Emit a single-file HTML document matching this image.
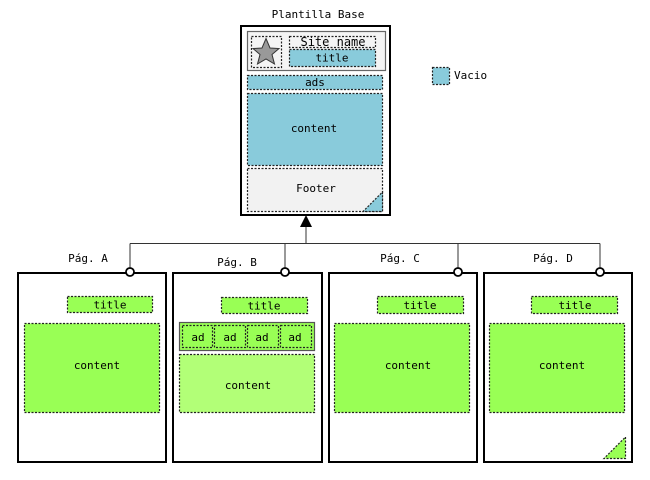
<!DOCTYPE html>
<html><head><meta charset="utf-8"><style>
html,body{margin:0;padding:0;background:#fff;}
svg{display:block}
text{font-family:"DejaVu Sans Mono","Liberation Mono",monospace;font-size:11px;fill:#000}
.d{stroke:#222;stroke-width:1.2;stroke-dasharray:2,1.5}
.g{fill:#99ff55}
.b{fill:#89cbdb}
</style></head><body>
<svg width="650" height="480" viewBox="0 0 650 480" xmlns="http://www.w3.org/2000/svg">
<text x="318" y="18" text-anchor="middle">Plantilla Base</text>
<rect x="241" y="26" width="149" height="189" fill="#fff" stroke="#000" stroke-width="2"/>
<rect x="247.5" y="31.5" width="138" height="39" fill="#f4f4f4" stroke="#666" stroke-width="1.2"/>
<rect x="251.5" y="36.5" width="30" height="31" fill="#f4f4f4" class="d"/>
<polygon points="266,38.5 270,48 279,48.5 272,54.5 274.5,64 266,59 257.5,64 260,54.5 253,48.5 262,48" fill="#999" stroke="#333" stroke-width="1"/>
<rect x="289.5" y="36.5" width="86" height="11" fill="#f4f4f4" class="d"/>
<text x="333" y="46" text-anchor="middle" style="font-size:12px">Site name</text>
<rect x="289.5" y="49.5" width="86" height="17" class="b d"/>
<text x="332" y="61.5" text-anchor="middle">title</text>
<rect x="247.5" y="75.5" width="135" height="14" class="b d"/>
<text x="315" y="86" text-anchor="middle">ads</text>
<rect x="247.5" y="93.5" width="135" height="72" class="b d"/>
<text x="314" y="132" text-anchor="middle">content</text>
<rect x="247.5" y="168.5" width="135" height="43" fill="#f2f2f2" class="d"/>
<polygon points="382.5,192 382.5,211.5 363,211.5" class="b d"/>
<text x="316" y="192" text-anchor="middle">Footer</text>
<rect x="432.5" y="67.5" width="17" height="17" class="b d"/>
<text x="454" y="79">Vacio</text>
<polygon points="306,215 300,227 312,227" fill="#000"/>
<g stroke="#333" stroke-width="1" fill="none">
<line x1="306" y1="227" x2="306" y2="243.5"/>
<line x1="130" y1="243.5" x2="600" y2="243.5"/>
<line x1="130" y1="243.5" x2="130" y2="268"/>
<line x1="285" y1="243.5" x2="285" y2="268"/>
<line x1="458" y1="243.5" x2="458" y2="268"/>
<line x1="600" y1="243.5" x2="600" y2="268"/>
</g>
<g fill="#fff" stroke="#000" stroke-width="2">
<rect x="18" y="273" width="148" height="189"/>
<rect x="173" y="273" width="149" height="189"/>
<rect x="329" y="273" width="148" height="189"/>
<rect x="484" y="273" width="148" height="189"/>
</g>
<g fill="#fff" stroke="#000" stroke-width="1.8">
<circle cx="130" cy="272" r="4"/>
<circle cx="285" cy="272" r="4"/>
<circle cx="458" cy="272" r="4"/>
<circle cx="600" cy="272" r="4"/>
</g>
<text x="88" y="262" text-anchor="middle">Pág. A</text>
<text x="237" y="266" text-anchor="middle">Pág. B</text>
<text x="400" y="262" text-anchor="middle">Pág. C</text>
<text x="553" y="262" text-anchor="middle">Pág. D</text>
<rect x="67.5" y="296.5" width="85" height="16" class="g d"/>
<text x="110" y="308.5" text-anchor="middle">title</text>
<rect x="24.5" y="323.5" width="135" height="89" class="g d"/>
<text x="97" y="369" text-anchor="middle">content</text>
<rect x="221.5" y="297.5" width="86" height="16" class="g d"/>
<text x="264" y="309.5" text-anchor="middle">title</text>
<rect x="179.5" y="322.5" width="135" height="28" class="g" stroke="#555" stroke-width="1.2"/>
<rect x="182.5" y="325.5" width="30" height="22" class="g d"/>
<rect x="214.5" y="325.5" width="31" height="22" class="g d"/>
<rect x="247.5" y="325.5" width="31" height="22" class="g d"/>
<rect x="280.5" y="325.5" width="31" height="22" class="g d"/>
<text x="198" y="341" text-anchor="middle">ad</text>
<text x="230" y="341" text-anchor="middle">ad</text>
<text x="262" y="341" text-anchor="middle">ad</text>
<text x="295" y="341" text-anchor="middle">ad</text>
<rect x="179.5" y="354.5" width="135" height="58" fill="#b2ff77" class="d"/>
<text x="248" y="389" text-anchor="middle">content</text>
<rect x="377.5" y="296.5" width="86" height="17" class="g d"/>
<text x="420" y="309" text-anchor="middle">title</text>
<rect x="334.5" y="323.5" width="135" height="89" class="g d"/>
<text x="408" y="369" text-anchor="middle">content</text>
<rect x="531.5" y="296.5" width="86" height="17" class="g d"/>
<text x="575" y="309" text-anchor="middle">title</text>
<rect x="489.5" y="323.5" width="135" height="89" class="g d"/>
<text x="562" y="369" text-anchor="middle">content</text>
<polygon points="625.5,437 625.5,458.5 604,458.5" class="g d"/>
</svg>
</body></html>
